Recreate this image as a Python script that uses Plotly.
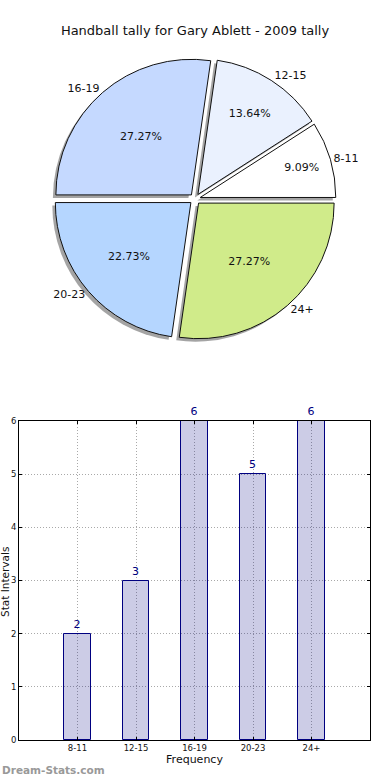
import plotly.graph_objects as go

categories = ["8-11", "12-15", "16-19", "20-23", "24+"]
counts = [2, 3, 6, 5, 6]
slice_colors = ["#FFFFFF", "#EAF1FE", "#C5D9FF", "#B5D6FF", "#D0EB8A"]
y_ticks = [0, 1, 2, 3, 4, 5, 6]

W, H = 390, 780
PULL = 0.04

def px_dom_x(a, b):
    return [a / W, b / W]

def px_dom_y(top, bottom):
    return [(H - bottom) / H, (H - top) / H]

# plotly's counterclockwise pies start one first-slice earlier; start at 3 o'clock
start_rot = 90 - 360 * counts[0] / sum(counts)

cx, cy, D = 195, 199, 282
pie_x = px_dom_x(cx - D / 2, cx + D / 2)
pie_y = px_dom_y(cy - D / 2, cy + D / 2)
sh_x = px_dom_x(cx - D / 2 - 3, cx + D / 2 - 3)
sh_y = px_dom_y(cy - D / 2 + 3, cy + D / 2 + 3)

fig = go.Figure()

# shadow
fig.add_trace(go.Pie(
    labels=categories, values=counts, sort=False, direction="counterclockwise",
    rotation=start_rot, pull=PULL, domain=dict(x=sh_x, y=sh_y),
    marker=dict(colors=["rgba(90,90,90,0.55)"] * 5, line=dict(width=0)),
    textinfo="none", hoverinfo="skip", showlegend=False,
))
# main pie with percentages
fig.add_trace(go.Pie(
    labels=categories, values=counts, sort=False, direction="counterclockwise",
    rotation=start_rot, pull=PULL, domain=dict(x=pie_x, y=pie_y),
    marker=dict(colors=slice_colors, line=dict(color="#111111", width=1)),
    texttemplate="%{percent:.2%}", textposition="inside",
    insidetextorientation="horizontal",
    textfont=dict(family="DejaVu Sans", size=11, color="#111111"),
    showlegend=False,
))
# outside labels
fig.add_trace(go.Pie(
    labels=categories, values=counts, sort=False, direction="counterclockwise",
    rotation=start_rot, pull=PULL, domain=dict(x=pie_x, y=pie_y),
    marker=dict(colors=["rgba(0,0,0,0)"] * 5, line=dict(width=0)),
    textinfo="label", textposition="outside",
    outsidetextfont=dict(family="DejaVu Sans", size=11, color="#111111"),
    hoverinfo="skip", showlegend=False,
))

# bar chart (translucent fill so the dotted grid shows through, as in the reference)
fig.add_trace(go.Bar(
    x=categories, y=counts, width=0.45,
    marker=dict(color="rgba(0,0,128,0.2)", line=dict(color="#000080", width=1)),
    text=counts, textposition="outside", cliponaxis=False,
    textfont=dict(family="DejaVu Sans", size=11, color="#000080"),
    showlegend=False, xaxis="x", yaxis="y",
))

grid = dict(showgrid=True, gridcolor="rgba(140,140,140,0.75)", griddash="1px,2px", gridwidth=1)
fig.update_layout(
    width=W, height=H,
    margin=dict(l=0, r=0, t=0, b=0),
    paper_bgcolor="white", plot_bgcolor="white",
    font=dict(family="DejaVu Sans", color="#111111"),
    title=dict(text="Handball tally for Gary Ablett - 2009 tally",
               x=0.5, xanchor="center", y=1 - 30 / H, yanchor="middle",
               font=dict(size=13, color="#111111")),
    xaxis=dict(domain=px_dom_x(19, 370), range=[-1, 5], type="category",
               categoryorder="array", categoryarray=categories,
               showline=True, mirror="ticks", linecolor="black", linewidth=1,
               ticks="inside", ticklen=3, tickcolor="black",
               tickfont=dict(size=8.5), zeroline=False, automargin=False,
               title=dict(text="Frequency", font=dict(size=11), standoff=3),
               anchor="y", **grid),
    yaxis=dict(domain=px_dom_y(421, 740), range=[0, 6], tickvals=y_ticks,
               showline=True, mirror="ticks", linecolor="black", linewidth=1,
               ticks="inside", ticklen=3, tickcolor="black",
               tickfont=dict(size=8.5), zeroline=False, automargin=False,
               anchor="x", **grid),
    bargap=0,
    annotations=[
        dict(text="Stat Intervals", textangle=-90, x=-2 / W, y=(H - 582) / H,
             xref="paper", yref="paper", showarrow=False, borderpad=0,
             font=dict(size=10.5, color="#111111"), xanchor="left", yanchor="middle"),
        dict(text="<b>Dream-Stats.com</b>", x=0, y=(H - 770) / H,
             xref="paper", yref="paper", showarrow=False, xanchor="left",
             yanchor="middle", font=dict(size=10.5, color="#999999")),
    ],
)

fig.write_html(
    "out.html",
    config={"displayModeBar": False},
    post_script="document.body.style.margin='0';document.body.style.overflow='hidden';",
)
